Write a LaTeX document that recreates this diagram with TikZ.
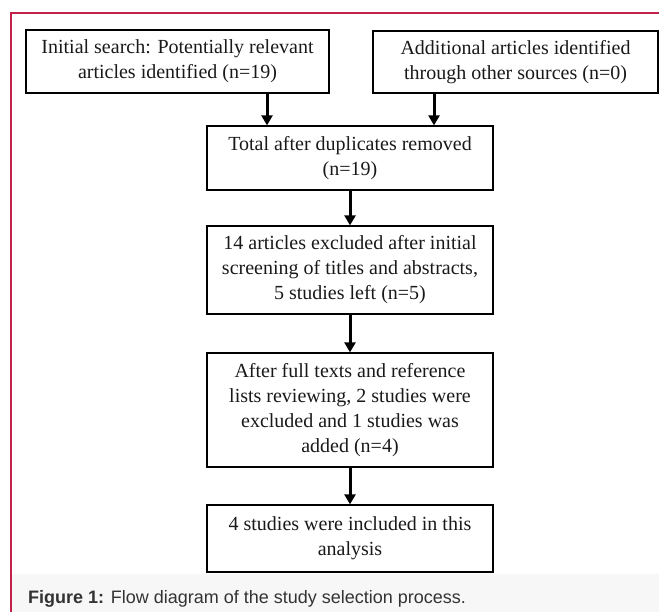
\documentclass[tikz,border=0pt]{standalone}
\usepackage{fontspec}
\setmainfont{Liberation Serif}
\newfontfamily\capfont{Liberation Sans}
\usetikzlibrary{arrows.meta}
\definecolor{framered}{HTML}{C0224A}
\definecolor{capgray}{HTML}{F7F7F7}
\tikzset{>={Triangle[width=11pt,length=10pt]},
  stagebox/.style={draw, line width=1.3pt, align=center, inner sep=0pt,
    font=\fontsize{20}{25}\selectfont, text=black!90},
  flow/.style={->, line width=3pt}}

\begin{document}
\begin{tikzpicture}[x=1pt,y=-1pt]
    \useasboundingbox (0,0) rectangle (659,612);
    \fill[capgray] (12,574) rectangle (659,612);
    \draw[framered, line width=2pt] (11,612) -- (11,13) -- (659,13);
    \node[stagebox, minimum width=303pt, minimum height=63pt] (b1) at (177.5,61.5)
        {Initial search: Potentially relevant\\articles identified (n=19)};
    \node[stagebox, minimum width=285pt, minimum height=62pt] (b2) at (515.5,62)
        {Additional articles identified\\through other sources (n=0)};
    \node[stagebox, minimum width=286pt, minimum height=64pt] (b3) at (350,158)
        {Total after duplicates removed\\(n=19)};
    \node[stagebox, minimum width=286pt, minimum height=88pt] (b4) at (350,270)
        {14 articles excluded after initial\\screening of titles and abstracts,\\5 studies left (n=5)};
    \node[stagebox, minimum width=286pt, minimum height=114pt] (b5) at (350,410)
        {After full texts and reference\\lists reviewing, 2 studies were\\excluded and 1 studies was\\added (n=4)};
    \node[stagebox, minimum width=286pt, minimum height=67pt] (b6) at (350,538.5)
        {4 studies were included in this\\analysis};
    \draw[flow] (b1.south -| 267,0) -- (b3.north -| 267,0);
    \draw[flow] (b2.south -| 434,0) -- (b3.north -| 434,0);
    \draw[flow] (b3) -- (b4);
    \draw[flow] (b4) -- (b5);
    \draw[flow] (b5) -- (b6);
    \node[anchor=west, inner sep=0pt, text=black!80, font=\capfont\fontsize{18}{21}\selectfont] (cap) at (28,599)
        {\textbf{Figure 1:} Flow diagram of the study selection process.};
\end{tikzpicture}
\end{document}
